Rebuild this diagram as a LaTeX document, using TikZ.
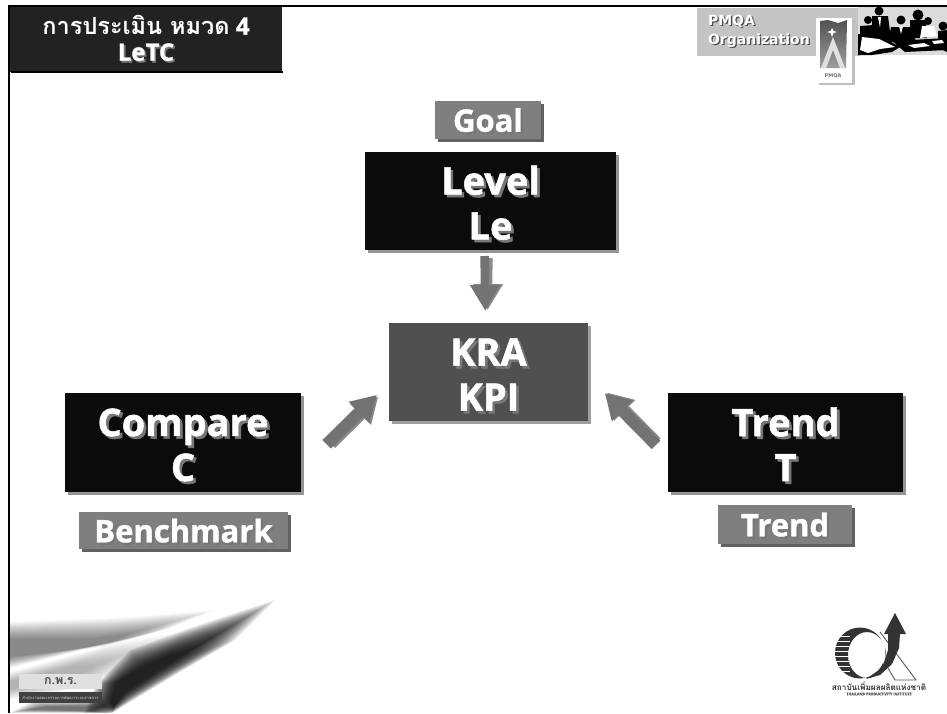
\documentclass[tikz,border=0pt]{standalone}
\usepackage{fontspec}
\setmainfont[BoldFeatures={FakeBold=1.3}]{Open Sans}
\newfontfamily\thaifont[Script=Thai]{Loma}
\newfontfamily\verd{DejaVu Sans}
\usetikzlibrary{arrows.meta,shadows,calc}
\newcommand{\stx}[1]{\leavevmode\rlap{\raisebox{-0.07em}{\kern0.07em\textcolor{shadowgray}{#1}}}#1}
\newcommand{\topfix}{\rule{0pt}{35pt}}
\newcommand{\tagfix}{\rule{0pt}{26pt}}
\newcommand{\stdark}[1]{\leavevmode\rlap{\raisebox{-0.09em}{\kern0.09em\textcolor{black!70}{#1}}}#1}
\newcommand{\softblob}[4]{\foreach \tt in {0,0.05,...,0.98}{\fill[#1,opacity=#2] ($#3$) \foreach \aa/\bb/\cc/\dd in {#4}{ -- ($(\aa,\bb)!\tt!(\cc,\dd)$)} -- cycle;}}
\definecolor{shadowgray}{HTML}{777777}
\definecolor{titlefill}{HTML}{222222}
\definecolor{boxblack}{HTML}{0B0B0B}
\definecolor{kpifill}{HTML}{505050}
\definecolor{tagfill}{HTML}{7F7F7F}
\definecolor{arrowgray}{HTML}{737373}
\definecolor{arrowshade}{HTML}{8A8A8A}
\definecolor{panelgray}{HTML}{C4C4C4}
\tikzset{
  x=1pt,y=-1pt,
  every node/.style={inner sep=0pt,outer sep=0pt,align=center,font=\bfseries,text=white},
  mainbox/.style={fill=boxblack,draw=none,drop shadow={shadow xshift=3pt,shadow yshift=-3pt,fill=black!42,opacity=1},
    minimum height=98pt,font=\fontsize{38}{45}\selectfont\bfseries},
  tagbox/.style={fill=tagfill,draw=none,drop shadow={shadow xshift=2.5pt,shadow yshift=-2.5pt,fill=black!62,opacity=1},
    font=\fontsize{31}{37}\selectfont\bfseries},
  bigarrow/.style={draw=arrowgray,line width=8.5pt,-{Triangle[length=26pt,width=28pt]}},
  diagarrow/.style={draw=arrowgray,line width=12pt,-{Triangle[length=25pt,width=28pt]}},
  bigarrowshade/.style={draw=arrowshade,line width=8.5pt,-{Triangle[length=26pt,width=28pt]}},
  diagarrowshade/.style={draw=arrowshade,line width=12pt,-{Triangle[length=25pt,width=28pt]}},
  framerule/.style={draw=black,line width=2.2pt},
}
\begin{document}
\begin{tikzpicture}
\useasboundingbox (0,0) rectangle (947,713);
\fill[white] (0,0) rectangle (947,713);

% swoosh
\softblob{black}{0.028}{(10,622)!\tt!(10,640)}{120/618/90/640,215/610/120/636,170/628/100/648,10/668/10/656}
\softblob{black}{0.015}{(10,672)!\tt!(10,682)}{120/642/70/668,180/632/90/668,120/672/70/680,60/692/50/684,10/700/10/688}
\softblob{black}{0.09}{(84,713)!\tt!(112,702)}{96/685/118/682,130/650/142/668,190/628/165/658,275/600/190/651,235/640/170/662,180/672/150/675,130/702/125/692,112/713/114/706}
\softblob{black}{0.035}{(10,713)!\tt!(30,709)}{30/702/50/707,105/700/90/707,112/713/90/711}

% frame
\draw[framerule] (9,713) -- (9,6) -- (947,6);

% title
\node[fill=titlefill,minimum width=272pt,minimum height=65pt,font=\fontsize{24}{26}\selectfont\bfseries] (title) at (146,39)
  {{\thaifont\fontsize{23.5}{26}\selectfont การประเมิน หมวด} 4\\\stx{LeTC}};
\draw[black,line width=1.5pt] (11,72) -- (283,72);

% top right panel
\node[fill=panelgray,minimum width=163pt,minimum height=48pt] (panel) at (778.5,31.5) {};
\node[anchor=west,font=\verd\fontsize{14}{19}\selectfont\bfseries,align=left,text=white] (pmqa) at (708,32)
  {\stdark{PMQA}\\\stdark{Organization}};
\node[fill=white,minimum width=36pt,minimum height=65pt,drop shadow={shadow xshift=2.5pt,shadow yshift=-1.5pt,fill=black!25,opacity=1}] (badge) at (834,50.5) {};
\shade[top color=black!68,bottom color=black!38] (820,21) -- (828,20) -- (838,23) -- (847,20) -- (846,68) -- (820,68) -- cycle;
\fill[black!12] (833,37) -- (845,68) -- (840,68) -- (833,50) -- (826,68) -- (821,68) -- cycle;
\fill[white] (832,28) -- (833.5,31) -- (837,32) -- (833.5,33) -- (832,37) -- (830.5,33) -- (827,32) -- (830.5,31) -- cycle;
\node[text=black!55,font=\verd\fontsize{5}{5}\selectfont\bfseries] (badgetext) at (833,76) {PMQA};

% clip art (meeting)
\fill[black!14] (858,7) rectangle (947,55);
\fill[black] (868,20) circle (4);
\fill[black] (860,26) -- (874,25) -- (877,45) -- (860,50) -- cycle;
\fill[black] (879,11) circle (4.5);
\fill[black] (872,16) -- (888,16) -- (891,40) -- (872,40) -- cycle;
\fill[white] (878,17) -- (881,17) -- (880,28) -- cycle;
\fill[black] (901,20) circle (4.5);
\fill[black] (891,27) -- (911,27) -- (916,42) -- (888,42) -- cycle;
\fill[white] (899,26) -- (903,26) -- (901,34) -- cycle;
\fill[black] (918,15) circle (5.5);
\fill[black] (910,20) -- (926,20) -- (927,38) -- (910,38) -- cycle;
\fill[black] (928,21) circle (4);
\fill[white] (922,26) -- (934,26) -- (937,36) -- (920,38) -- cycle;
\fill[black] (943,26) circle (4.5);
\fill[black] (938,31) -- (947,30) -- (947,52) -- (938,48) -- cycle;
\fill[black] (892,41) -- (947,38) -- (947,50) -- (905,52) -- cycle;
\fill[white] (908,45) -- (924,43) -- (930,46) -- (914,48) -- cycle;
\fill[white] (932,41) -- (942,40) -- (944,43) -- (934,44) -- cycle;
\fill[black] (883,31) circle (5.5);
\fill[black] (858,34) -- (880,36) -- (900,47) -- (892,52) -- (872,55) -- (858,55) -- cycle;
\fill[white] (862,37) -- (879,39) -- (895,47) -- (880,49) -- (868,53) -- (860,50) -- cycle;

% main boxes
\node[mainbox,minimum width=251pt] (level) at (490.5,201) {\topfix\stx{Level}\\\stx{Le}};
\node[tagbox,minimum width=106pt,minimum height=38pt] (goal) at (488,120) {\tagfix\stx{Goal}};
\node[mainbox,minimum width=199pt,fill=kpifill,drop shadow={shadow xshift=3pt,shadow yshift=-3pt,fill=black!38,opacity=1}] (kpi) at (488.5,372) {\topfix\stx{KRA}\\\stx{KPI}};
\node[mainbox,minimum width=236pt,minimum height=99pt] (compare) at (183,442.5) {\topfix\stx{Compare}\\\stx{C}};
\node[mainbox,minimum width=235pt,minimum height=99pt] (trendbox) at (785.5,442.5) {\topfix\stx{Trend}\\\stx{T}};
\node[tagbox,minimum width=209pt,minimum height=37pt] (benchmark) at (183.5,530.5) {\tagfix\stx{Benchmark}};
\node[tagbox,minimum width=134pt,minimum height=39pt] (trendtag) at (785,524.5) {\tagfix\stx{Trend}};

% connectors
\draw[bigarrowshade,shorten <=8pt,shorten >=13pt] ([shift={(-2,0)}]level.south) -- ([shift={(-1,0)}]kpi.north);
\draw[bigarrow,shorten <=6pt,shorten >=12pt] ([shift={(-6,0)}]level.south) -- ([shift={(-3,0)}]kpi.north);
\draw[diagarrowshade,shorten <=38pt,shorten >=18pt] ([shift={(3,28)}]compare.east) -- ([shift={(2,12)}]kpi.west);
\draw[diagarrow,shorten <=36pt,shorten >=17pt] ([shift={(0,27)}]compare.east) -- ([shift={(0,11)}]kpi.west);
\draw[diagarrowshade,shorten <=18pt,shorten >=26pt] ([shift={(1,13)}]trendbox.west) -- ([shift={(1,2)}]kpi.east);
\draw[diagarrow,shorten <=17pt,shorten >=24pt] ([shift={(0,14.5)}]trendbox.west) -- ([shift={(0,4)}]kpi.east);

% OPDC badge
\node[fill=black!12,minimum width=83pt,minimum height=15pt,anchor=north west,text=black!70,font=\thaifont\fontsize{12.5}{12}\selectfont\bfseries] (opdc) at (19,674) {ก.พ.ร.};
\node[fill=black!75,minimum width=83pt,minimum height=11pt,anchor=north west,text=white!85!black,font=\thaifont\fontsize{4}{4}\selectfont] (opdcsub) at (19,692) {สำนักงานคณะกรรมการพัฒนาระบบราชการ};

% productivity institute logo
\fill[black!80,even odd rule] (860,653) ellipse [x radius=25,y radius=25.5] (867,655) ellipse [x radius=19,y radius=23];
\foreach \yy in {636,641,646,651,656,661,666,671}
  \draw[white,line width=1pt] (833,\yy) -- (850,\yy);
\draw[white,line width=3pt] (882,633) -- (886,676);
\draw[black!65,line width=0.9pt,line join=round] (880,632) -- (916,680) -- (895,680) -- (888,668);
\fill[black!80] (895,613) -- (906,634) -- (900,634) -- (899,648) -- (892,664) -- (880,675) -- (866,679) -- (882,668) -- (888,650) -- (888,634) -- (884,634) -- cycle;
\node[text=black!80,font=\thaifont\fontsize{8.2}{9}\selectfont\bfseries] (ftith) at (879,686) {สถาบันเพิ่มผลผลิตแห่งชาติ};
\node[text=black!60,font=\fontsize{3.6}{4}\selectfont\bfseries] (ften) at (879,694) {THAILAND PRODUCTIVITY INSTITUTE};
\end{tikzpicture}
\end{document}
